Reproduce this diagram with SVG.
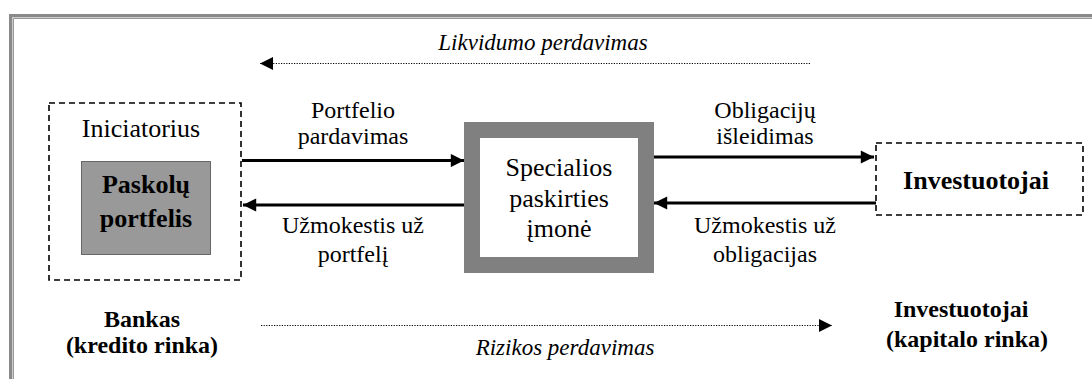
<svg xmlns="http://www.w3.org/2000/svg" width="1092" height="379" viewBox="0 0 1092 379">
  <style>
    text { font-family: "Times New Roman", "Liberation Serif", serif; text-anchor: middle; fill: #000; }
    .dash { fill: none; stroke: #000; stroke-width: 1.6; stroke-dasharray: 6 4; }
    .solid { fill: none; stroke: #000; stroke-width: 3; }
    .dot { fill: none; stroke: #000; stroke-width: 1.1; stroke-dasharray: 1.2 1.4; }
  </style>
  <defs>
    <marker id="ah" viewBox="0 0 10 10" refX="10" refY="5" markerWidth="5" markerHeight="4.4" markerUnits="strokeWidth" orient="auto">
      <path d="M0,0 L10,5 L0,10 Z" fill="#000"/>
    </marker>
    <marker id="ahd" viewBox="0 0 10 10" refX="10" refY="5" markerWidth="16" markerHeight="13" markerUnits="userSpaceOnUse" orient="auto">
      <path d="M0,0 L10,5 L0,10 Z" fill="#000"/>
    </marker>
  </defs>
  <rect width="1092" height="379" fill="#fff"/>
  <g id="frame">
    <path d="M10.5 400 V15.5 H1100" fill="none" stroke="#8a8a8a" stroke-width="3"/>
    <path d="M12.5 400 V17.5 H1100" fill="none" stroke="#cccccc" stroke-width="1"/>
    <path d="M13.5 400 V18.5 H1100" fill="none" stroke="#999999" stroke-width="1"/>
  </g>
  <g id="connectors">
    <line class="solid" x1="242" y1="160.5" x2="464" y2="160.5" marker-end="url(#ah)"/>
    <line class="solid" x1="464" y1="205" x2="243" y2="205" marker-end="url(#ah)"/>
    <line class="solid" x1="654" y1="157" x2="874" y2="157" marker-end="url(#ah)"/>
    <line class="solid" x1="876" y1="203" x2="654" y2="203" marker-end="url(#ah)"/>
    <line class="dot" x1="810" y1="63.5" x2="260" y2="63.5" marker-end="url(#ahd)"/>
    <line class="dot" x1="261" y1="325.5" x2="832" y2="325.5" marker-end="url(#ahd)"/>
  </g>
  <g id="iniciatorius">
    <rect class="dash" x="49" y="103" width="192" height="177"/>
    <text x="141" y="137" font-size="26" style="font-family: 'Times New Roman', 'Liberation Serif', serif">Iniciatorius</text>
  </g>
  <g id="paskolu-portfelis">
    <rect x="81.5" y="161.5" width="129" height="93" fill="#999" stroke="#000" stroke-width="1" stroke-dasharray="1 1"/>
    <text x="146" y="193" font-size="26" font-weight="bold" style="font-family: 'Times New Roman', 'Liberation Serif', serif">Paskolų</text>
    <text x="146" y="227" font-size="26" font-weight="bold" style="font-family: 'Times New Roman', 'Liberation Serif', serif">portfelis</text>
  </g>
  <g id="spi">
    <rect x="472" y="130" width="174" height="135" fill="#fff" stroke="#808080" stroke-width="16"/>
    <text x="559" y="176" font-size="26" style="font-family: 'Times New Roman', 'Liberation Serif', serif">Specialios</text>
    <text x="559" y="207" font-size="26" style="font-family: 'Times New Roman', 'Liberation Serif', serif">paskirties</text>
    <text x="559" y="237" font-size="26" style="font-family: 'Times New Roman', 'Liberation Serif', serif">įmonė</text>
  </g>
  <g id="investuotojai">
    <rect class="dash" x="876" y="143" width="207" height="72"/>
    <text x="976" y="189" font-size="26" font-weight="bold" style="font-family: 'Times New Roman', 'Liberation Serif', serif">Investuotojai</text>
  </g>
  <g id="labels" style="font-family: 'Times New Roman', 'Liberation Serif', serif">
    <text x="353" y="118" font-size="24">Portfelio</text>
    <text x="353" y="144" font-size="24">pardavimas</text>
    <text x="353" y="233" font-size="24">Užmokestis už</text>
    <text x="353" y="262" font-size="24">portfelį</text>
    <text x="765" y="118" font-size="24">Obligacijų</text>
    <text x="765" y="144" font-size="24">išleidimas</text>
    <text x="765" y="233" font-size="24">Užmokestis už</text>
    <text x="765" y="262" font-size="24">obligacijas</text>
    <text x="543" y="50" font-size="23" font-style="italic">Likvidumo perdavimas</text>
    <text x="565" y="355" font-size="23" font-style="italic">Rizikos perdavimas</text>
    <text x="142" y="327" font-size="24" font-weight="bold">Bankas</text>
    <text x="142" y="353" font-size="24" font-weight="bold">(kredito rinka)</text>
    <text x="961" y="317" font-size="24" font-weight="bold">Investuotojai</text>
    <text x="967" y="347" font-size="24" font-weight="bold">(kapitalo rinka)</text>
  </g>
</svg>
